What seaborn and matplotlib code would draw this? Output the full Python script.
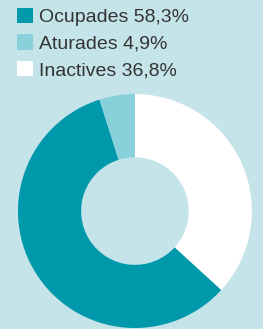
import matplotlib

matplotlib.use("Agg")
import matplotlib.pyplot as plt
import seaborn as sns
from matplotlib.patches import Patch

# Data
labels = ["Ocupades", "Aturades", "Inactives"]
values = [58.3, 4.9, 36.8]
colors = ["#0099AC", "#88D1DB", "#FFFFFF"]
bg = "#C5E4EA"

sns.set_style("white")
plt.rcParams["font.family"] = ["Liberation Sans", "DejaVu Sans"]

fig = plt.figure(figsize=(2.63, 3.29), dpi=100, facecolor=bg)
ax = fig.add_axes([0.068, 0.003, 0.89, 0.711])
ax.set_facecolor(bg)

# clockwise from 12 o'clock: Inactives, Ocupades, Aturades
order = [2, 0, 1]
ax.pie(
    [values[i] for i in order],
    colors=[colors[i] for i in order],
    startangle=90,
    counterclock=False,
    radius=1,
    wedgeprops=dict(width=0.54, linewidth=0),
)
ax.set_xlim(-1, 1)
ax.set_ylim(-1, 1)
ax.set_aspect("equal")
ax.axis("off")

handles = [Patch(facecolor=c, edgecolor="none") for c in colors]
texts = [f"{l} {str(v).replace('.', ',')}%" for l, v in zip(labels, values)]
fig.legend(
    handles, texts,
    loc="upper left", bbox_to_anchor=(0.02, 1.012),
    frameon=False, fontsize=14, labelcolor="#333333",
    handlelength=0.82, handleheight=0.82, handletextpad=0.3,
    labelspacing=0.43, borderaxespad=0.2,
)

fig.savefig("out.png", dpi=100, facecolor=bg)
